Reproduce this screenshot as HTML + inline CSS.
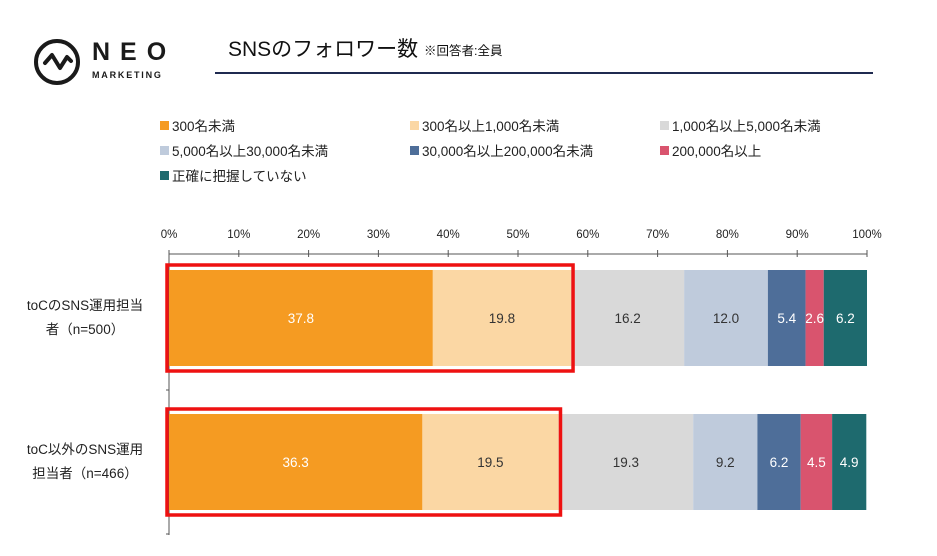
<!DOCTYPE html>
<html><head><meta charset="utf-8"><style>
body{margin:0;background:#fff;}
svg{display:block;font-family:"Liberation Sans","Noto Sans CJK JP",sans-serif;}
</style></head><body>
<svg id="c" width="937" height="556" viewBox="0 0 937 556">
  <g>
    <circle cx="57" cy="62" r="21" fill="none" stroke="#1a1a1a" stroke-width="4"/>
    <polyline points="45,63 52,55 60,68 67,57 71,61" fill="none" stroke="#1a1a1a" stroke-width="4" stroke-linejoin="round" stroke-linecap="round"/>
    <text x="92" y="60" font-size="25" font-weight="bold" fill="#1a1a1a" letter-spacing="10">NEO</text>
    <text x="92" y="78" font-size="9" font-weight="bold" fill="#1a1a1a" letter-spacing="1.8">MARKETING</text>
  </g>
  <text x="228" y="56" font-size="21" fill="#111">SNSのフォロワー数</text>
  <text x="424" y="55" font-size="12.5" fill="#111">※回答者:全員</text>
  <line x1="215" y1="73" x2="873" y2="73" stroke="#1f2a50" stroke-width="2"/>
  <g id="legend"></g>
  <g id="axis"></g>
  <g id="bars"></g>
</svg>
<script>
const categories = ["toCのSNS運用担当|者（n=500）", "toC以外のSNS運用|担当者（n=466）"];
const seriesNames = ["300名未満","300名以上1,000名未満","1,000名以上5,000名未満","5,000名以上30,000名未満","30,000名以上200,000名未満","200,000名以上","正確に把握していない"];
const row1 = [37.8,19.8,16.2,12.0,5.4,2.6,6.2];
const row2 = [36.3,19.5,19.3,9.2,6.2,4.5,4.9];
const tickLabels = ["0%","10%","20%","30%","40%","50%","60%","70%","80%","90%","100%"];
const highlightCount = 2;

const colors = ["#f59b22","#fbd7a4","#d9d9d9","#bfcbdc","#4e6e99","#d9546e","#1e6a6e"];
const textColors = ["#fff","#333","#333","#333","#fff","#fff","#fff"];
const NS = "http://www.w3.org/2000/svg";
const X0 = 169, X1 = 867;
const xs = v => X0 + v / 100 * (X1 - X0);
const rowTop = [270, 414], rowH = 96;
function mk(tag, attrs, parent){ const e=document.createElementNS(NS,tag); for(const k in attrs) e.setAttribute(k,attrs[k]); parent.appendChild(e); return e; }

const lg = document.getElementById('legend');
const lpos = [[160,126],[410,126],[660,126],[160,151],[410,151],[660,151],[160,176]];
seriesNames.forEach((n,i)=>{
  const g = mk('g',{},lg);
  
  
  mk('rect',{x:lpos[i][0],y:lpos[i][1]-5,width:9,height:9,fill:colors[i]},g);
  const t = mk('text',{x:lpos[i][0]+12,y:lpos[i][1]+5,'font-size':13.5,fill:'#222'},g);
  t.textContent = n;
});

const ax = document.getElementById('axis');
mk('line',{x1:X0,y1:254,x2:X1,y2:254,stroke:'#555','stroke-width':1},ax);
mk('line',{x1:X0,y1:254,x2:X0,y2:535,stroke:'#555','stroke-width':1},ax);
mk('line',{x1:X0-3,y1:390,x2:X0,y2:390,stroke:'#555'},ax);
mk('line',{x1:X0-3,y1:534,x2:X0,y2:534,stroke:'#555'},ax);
tickLabels.forEach((l,i)=>{
  const v = i*10;
  mk('line',{x1:xs(v),y1:250,x2:xs(v),y2:257,stroke:'#555'},ax);
  const t = mk('text',{x:xs(v),y:238,'font-size':11.5,'text-anchor':'middle',fill:'#222'},ax);
  
  
  t.textContent = l;
});

const bg = document.getElementById('bars');
[row1,row2].forEach((row,r)=>{
  let cum = 0;
  const y = rowTop[r];
  const lines = categories[r].split('|');
  lines.forEach((ln,k)=>{
    const t = mk('text',{x:85,y:y+40+k*24,'font-size':13.5,'text-anchor':'middle',fill:'#222'},bg);
    
    
    t.textContent = ln;
  });
  row.forEach((v,i)=>{
    const rc = mk('rect',{x:xs(cum),y:y,width:xs(cum+v)-xs(cum),height:rowH,fill:colors[i]},bg);
    
    
    const t = mk('text',{x:(xs(cum)+xs(cum+v))/2,y:y+rowH/2+5,'font-size':13.5,'text-anchor':'middle',fill:textColors[i]},bg);
    
    
    t.textContent = v.toFixed(1);
    cum += v;
  });
  let hl = 0; for(let i=0;i<highlightCount;i++) hl += row[i];
  const box = mk('rect',{x:X0-2,y:y-5,width:xs(hl)-X0+4,height:rowH+10,fill:'none',stroke:'#ee1111','stroke-width':3.5},bg);
  
  
});
</script>
</body></html>
